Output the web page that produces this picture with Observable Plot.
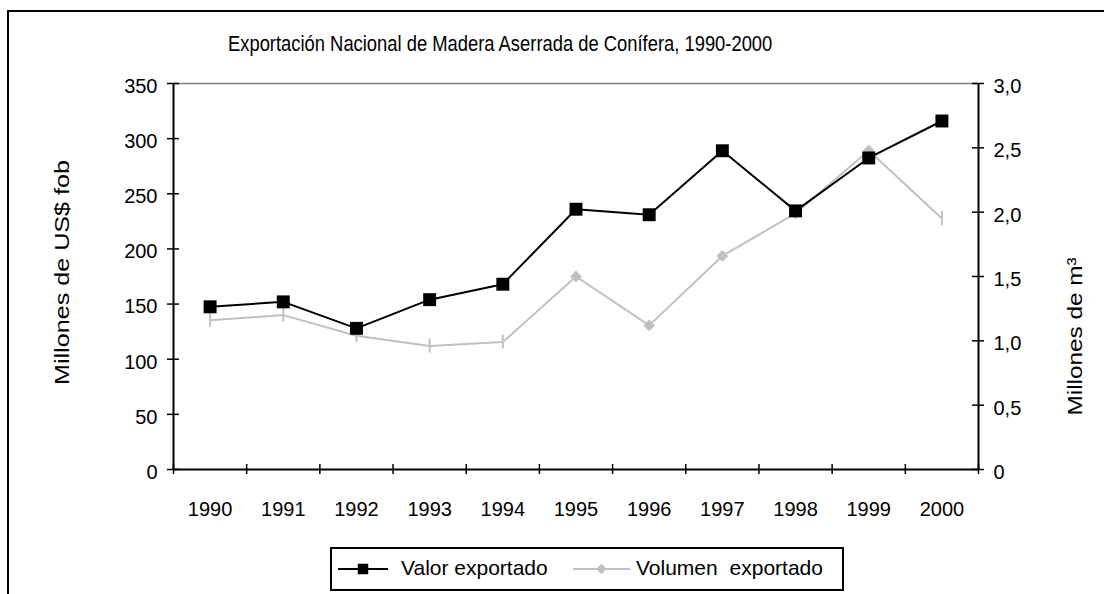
<!DOCTYPE html>
<html>
<head>
<meta charset="utf-8">
<script src="https://cdn.jsdelivr.net/npm/d3@7"></script>
<script src="https://cdn.jsdelivr.net/npm/@observablehq/plot@0.6"></script>
<style>
  html, body { margin: 0; padding: 0; background: #fff; overflow: hidden; }
  #wrap { position: relative; width: 1104px; height: 594px; overflow: hidden; font-family: "Liberation Sans", Arial, sans-serif; }
  #frame { position: absolute; left: 7px; top: 10px; width: 1200px; height: 700px; border-left: 2px solid #000; border-top: 2px solid #000; }
  #title { position: absolute; left: 228px; top: 31px; white-space: nowrap; font-family: "Liberation Sans", Arial, sans-serif; font-size: 22px; color: #000; transform-origin: 0 0; transform: scaleX(0.835); }
  #chart { position: absolute; left: 0; top: 0; }
  #legend { position: absolute; left: 330px; top: 547px; width: 510px; height: 40px; border: 2px solid #000; font-size: 21px; color: #000; }
  #legend .lab { position: absolute; top: 7px; white-space: nowrap; }
  #legend svg { position: absolute; top: 10px; display: block; }
</style>
</head>
<body>
<div id="wrap">
  <div id="frame"></div>
  <div id="chart"></div>
  <div id="title">Exportación Nacional de Madera Aserrada de Conífera, 1990-2000</div>
  <div id="legend"></div>
</div>
<script>
// ---- Data ----
const anios = [1990, 1991, 1992, 1993, 1994, 1995, 1996, 1997, 1998, 1999, 2000];
const valorExportado = [147.5, 152, 128, 154, 168, 236, 231, 289, 234.5, 282.5, 316];      // millones US$ fob
const volumenExportado = [1.16, 1.2, 1.04, 0.96, 0.99, 1.5, 1.12, 1.66, 1.99, 2.48, 1.95]; // millones m3
const ticksIzquierda = [0, 50, 100, 150, 200, 250, 300, 350];
const ticksDerecha = [0, 0.5, 1.0, 1.5, 2.0, 2.5, 3.0];
const etiquetasDerecha = ["0", "0,5", "1,0", "1,5", "2,0", "2,5", "3,0"];
const serieNombres = ["Valor exportado", "Volumen exportado"];
const tituloIzq = "Millones de US$ fob";
const tituloDer = "Millones de m³";

// ---- Build ----
const maxIzq = 350, maxDer = 3;
const k = maxIzq / maxDer; // right axis -> left axis units
const valor = anios.map((a, i) => ({anio: a, v: valorExportado[i]}));
const volumen = anios.map((a, i) => ({anio: a, v: volumenExportado[i] * k}));
const diamantes = volumen.filter(d => d.anio >= 1995 && d.anio <= 1999);
const rayas = volumen.filter(d => d.anio < 1995 || d.anio > 1999);
const limites = d3.range(anios[0] - 0.5, anios[anios.length - 1] + 1, 1);
const x0 = anios[0] - 0.5, x1 = anios[anios.length - 1] + 0.5;

const W = 1104, H = 540, mL = 173, mR = 126, mT = 83, mB = 71;
const pxY = maxIzq / (H - mT - mB);       // data units per px (y)
const pxX = (x1 - x0) / (W - mL - mR);    // data units per px (x)

const font = "Liberation Sans, Arial, sans-serif";
const chart = Plot.plot({
  width: W, height: H,
  marginLeft: mL, marginRight: mR, marginTop: mT, marginBottom: mB,
  style: {fontFamily: font, background: "transparent", overflow: "visible"},
  x: {domain: [x0, x1], axis: null},
  y: {domain: [0, maxIzq], axis: null},
  marks: [
    Plot.ruleY([maxIzq], {stroke: "#808080", strokeWidth: 1.5}),
    // axes lines
    Plot.ruleX([x0], {stroke: "#000", strokeWidth: 2}),
    Plot.ruleX([x1], {stroke: "#000", strokeWidth: 2}),
    Plot.ruleY([0], {stroke: "#000", strokeWidth: 2}),
    // x ticks (crossing)
    Plot.ruleX(limites, {x: d => d, y1: -5 * pxY, y2: 5 * pxY, stroke: "#000", strokeWidth: 1.5, clip: false}),
    // left ticks
    Plot.ruleY(ticksIzquierda, {y: d => d, x1: x0 - 6 * pxX, x2: x0 + 6 * pxX, stroke: "#000", strokeWidth: 1.5}),
    // right ticks
    Plot.ruleY(ticksDerecha, {y: d => d * k, x1: x1 - 6 * pxX, x2: x1 + 6 * pxX, stroke: "#000", strokeWidth: 1.5}),
    // tick labels
    Plot.text(ticksIzquierda, {x: x0, y: d => d, text: d => String(d), textAnchor: "end", dx: -16, dy: 3, fontSize: 20, fill: "#000"}),
    Plot.text(ticksDerecha, {x: x1, y: d => d * k, text: (d, i) => etiquetasDerecha[i], textAnchor: "start", dx: 15, dy: 3, fontSize: 20, fill: "#000"}),
    Plot.text(anios, {x: d => d, y: 0, text: d => String(d), dy: 40, fontSize: 20, fill: "#000"}),
    // axis titles
    Plot.text([tituloIzq], {frameAnchor: "left", textAnchor: "middle", dx: -111, dy: -4, rotate: -90, fontSize: 20, fill: "#000", className: "ttl-izq"}),
    Plot.text([tituloDer], {frameAnchor: "right", textAnchor: "middle", dx: 97, dy: 60, rotate: -90, fontSize: 20, fill: "#000", className: "ttl-der"}),
    // series
    Plot.line(volumen, {x: "anio", y: "v", stroke: "#c0c0c0", strokeWidth: 2}),
    Plot.ruleX(rayas, {x: "anio", y1: d => d.v - 7 * pxY, y2: d => d.v + 7 * pxY, stroke: "#c0c0c0", strokeWidth: 2}),
    Plot.dot(diamantes, {x: "anio", y: "v", symbol: "diamond2", r: 5.3, fill: "#c0c0c0", stroke: "none"}),
    Plot.line(valor, {x: "anio", y: "v", stroke: "#000", strokeWidth: 2}),
    Plot.dot(valor, {x: "anio", y: "v", symbol: "square", r: 7.3, fill: "#000", stroke: "none"})
  ]
});
document.getElementById("chart").appendChild(chart);
// stretch axis titles to the reference's length
d3.select(chart).selectAll("g.ttl-izq text").attr("textLength", 225).attr("lengthAdjust", "spacingAndGlyphs");
d3.select(chart).selectAll("g.ttl-der text").attr("textLength", 158).attr("lengthAdjust", "spacingAndGlyphs");

// ---- Legend ----
const leg = document.getElementById("legend");
function muestra(color, simbolo, left, width, size) {
  const s = d3.create("svg").attr("width", width).attr("height", 20).style("left", left + "px");
  s.append("line").attr("x1", 0).attr("x2", width).attr("y1", 10).attr("y2", 10).attr("stroke", color).attr("stroke-width", 2);
  s.append("path").attr("transform", `translate(${width / 2},10)`)
    .attr("d", d3.symbol(simbolo === "square" ? d3.symbolSquare : d3.symbolDiamond2, size)())
    .attr("fill", color);
  leg.appendChild(s.node());
}
function etiqueta(texto, left, ws) {
  const t = document.createElement("span");
  t.className = "lab";
  t.textContent = texto;
  t.style.left = left + "px";
  if (ws) t.style.wordSpacing = ws + "px";
  leg.appendChild(t);
}
muestra("#000", "square", 6, 50, 110);
etiqueta(serieNombres[0], 69);
muestra("#c0c0c0", "diamond", 241, 57, 70);
etiqueta(serieNombres[1], 304, 6);
</script>
</body>
</html>
